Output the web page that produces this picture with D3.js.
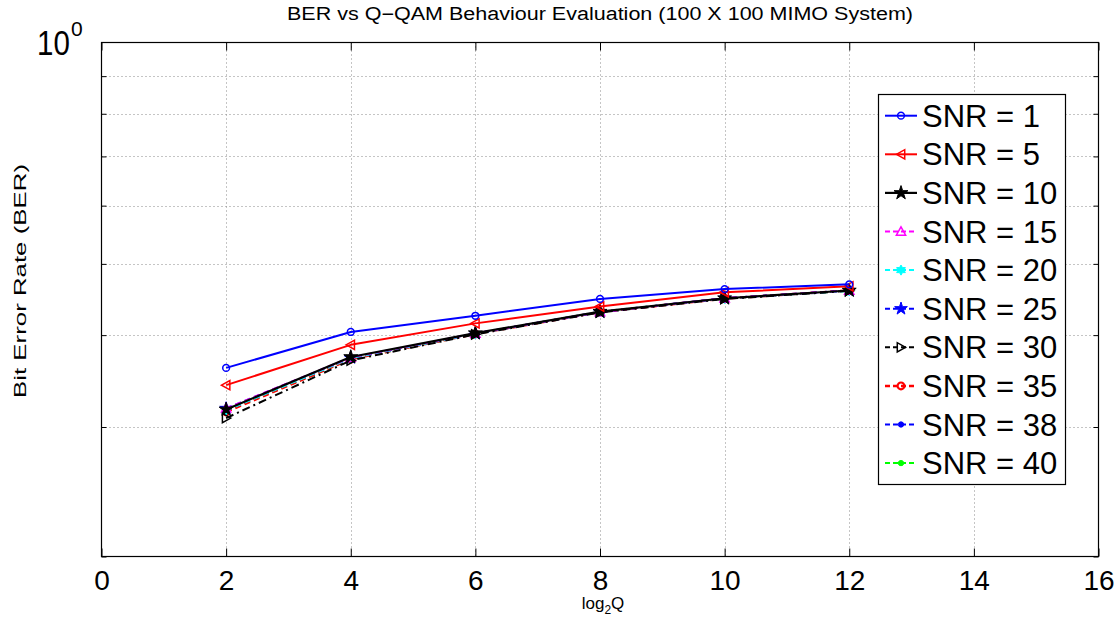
<!DOCTYPE html>
<html>
<head>
<meta charset="utf-8">
<script src="https://cdn.jsdelivr.net/npm/d3@7"></script>
<style>
  html, body { margin: 0; padding: 0; background: #fff; }
  svg { display: block; font-family: "Liberation Sans", Arial, Helvetica, sans-serif; }
</style>
</head>
<body>
<svg id="chart" width="1120" height="625"></svg>
<script>
// log2 of the QAM order on the x axis
const log2Q = [2, 4, 6, 8, 10, 12];

// BER per SNR setting
const ber_snr1  = [0.361, 0.404, 0.425, 0.448, 0.462, 0.469];
const ber_snr5  = [0.342, 0.388, 0.415, 0.4375, 0.4575, 0.466];
const ber_snr10 = [0.317, 0.3735, 0.4025, 0.4305, 0.449, 0.460];
const ber_snr15 = [0.318, 0.373, 0.402, 0.430, 0.449, 0.460];
const ber_snr20 = [0.316, 0.372, 0.4015, 0.4305, 0.4485, 0.4595];
const ber_snr25 = [0.318, 0.3725, 0.402, 0.430, 0.449, 0.460];
const ber_snr30 = [0.3085, 0.3695, 0.401, 0.4295, 0.448, 0.4595];
const ber_snr35 = [0.3145, 0.371, 0.4015, 0.430, 0.4485, 0.460];
const ber_snr38 = [0.3155, 0.3715, 0.402, 0.430, 0.4488, 0.4598];
const ber_snr40 = [0.315, 0.371, 0.4018, 0.4302, 0.4487, 0.4597];

const snrLabels = ["SNR = 1", "SNR = 5", "SNR = 10", "SNR = 15", "SNR = 20",
                   "SNR = 25", "SNR = 30", "SNR = 35", "SNR = 38", "SNR = 40"];
const xTicks = [0, 2, 4, 6, 8, 10, 12, 14, 16];
const yMinorTicks = [0.2, 0.3, 0.4, 0.5, 0.6, 0.7, 0.8, 0.9];

const titleText = "BER vs Q\u2212QAM Behaviour Evaluation (100 X 100 MIMO System)";
const yLabelText = "Bit Error Rate (BER)";

// custom marker shapes
const triLeft = { draw(ctx, s) { const r = Math.sqrt(s) * 0.6;
  ctx.moveTo(-r, 0); ctx.lineTo(r * 0.8, -r); ctx.lineTo(r * 0.8, r); ctx.closePath(); } };
const triRight = { draw(ctx, s) { const r = Math.sqrt(s) * 0.6;
  ctx.moveTo(r, 0); ctx.lineTo(-r * 0.8, -r); ctx.lineTo(-r * 0.8, r); ctx.closePath(); } };
const triUp = { draw(ctx, s) { const r = Math.sqrt(s) * 0.6;
  ctx.moveTo(0, -r); ctx.lineTo(r, r * 0.8); ctx.lineTo(-r, r * 0.8); ctx.closePath(); } };
const hexagram = { draw(ctx, s) { const R = Math.sqrt(s) * 0.65, r = R * 0.577;
  for (let i = 0; i < 12; i++) { const a = -Math.PI / 2 + i * Math.PI / 6; const rr = i % 2 ? r : R;
    const px = rr * Math.cos(a), py = rr * Math.sin(a); i ? ctx.lineTo(px, py) : ctx.moveTo(px, py); }
  ctx.closePath(); } };

const series = [
  { label: snrLabels[0], values: ber_snr1,  color: "#0000ff", dash: null,      width: 2,   sym: d3.symbolCircle, size: 36, fill: "none", sw: 1.5 },
  { label: snrLabels[1], values: ber_snr5,  color: "#ff0000", dash: null,      width: 2,   sym: triLeft,        size: 60, fill: "none", sw: 1.5 },
  { label: snrLabels[2], values: ber_snr10, color: "#000000", dash: null,      width: 2.2, sym: d3.symbolStar,   size: 60, fill: "#000000", sw: 1 },
  { label: snrLabels[3], values: ber_snr15, color: "#ff00ff", dash: "6,4",     width: 2,   sym: triUp,          size: 60, fill: "none", sw: 1.5 },
  { label: snrLabels[4], values: ber_snr20, color: "#00ffff", dash: "6,4",     width: 2,   sym: hexagram,       size: 60, fill: "#00ffff", sw: 1 },
  { label: snrLabels[5], values: ber_snr25, color: "#0000ff", dash: "6,4",     width: 2,   sym: d3.symbolStar,   size: 50, fill: "#0000ff", sw: 1 },
  { label: snrLabels[6], values: ber_snr30, color: "#000000", dash: "8,4,2,4", width: 2,   sym: triRight,       size: 60, fill: "none", sw: 1.5 },
  { label: snrLabels[7], values: ber_snr35, color: "#ff0000", dash: "6,4",     width: 2.5, sym: d3.symbolCircle, size: 36, fill: "none", sw: 2.2 },
  { label: snrLabels[8], values: ber_snr38, color: "#0000ff", dash: "6,4",     width: 2,   sym: d3.symbolCircle, size: 22, fill: "#0000ff", sw: 1 },
  { label: snrLabels[9], values: ber_snr40, color: "#00ff00", dash: "6,4",     width: 2,   sym: d3.symbolCircle, size: 22, fill: "#00ff00", sw: 1 }
];
// stacking order of the curves (bottom to top)
const drawOrder = [9, 8, 7, 5, 4, 3, 6, 2, 1, 0];

const svg = d3.select("#chart");
const pL = 101.5, pR = 1098.5, pT = 42.5, pB = 556.5;

const x = d3.scaleLinear().domain([0, 16]).range([pL, pR]);
const y = d3.scaleLog().domain([0.2, 1]).range([pB, pT]);

// dotted grid
const grid = svg.append("g").attr("stroke", "#8a8a8a").attr("stroke-width", 1).attr("stroke-dasharray", "1,3");
grid.selectAll("line.gx").data(xTicks.slice(1, -1)).join("line")
  .attr("x1", d => Math.round(x(d)) + 0.5).attr("x2", d => Math.round(x(d)) + 0.5)
  .attr("y1", pT).attr("y2", pB);
grid.selectAll("line.gy").data(yMinorTicks.slice(1)).join("line")
  .attr("y1", d => Math.round(y(d)) + 0.5).attr("y2", d => Math.round(y(d)) + 0.5)
  .attr("x1", pL).attr("x2", pR);

// axes with inward ticks on all four sides
const xBottom = d3.axisBottom(x).tickValues(xTicks).tickSize(-8).tickPadding(14).tickFormat(d3.format("d"));
const xTop = d3.axisTop(x).tickValues(xTicks).tickSize(-8).tickFormat("");
const yLeft = d3.axisLeft(y).tickValues(yMinorTicks).tickSize(-5).tickFormat("");
const yRight = d3.axisRight(y).tickValues(yMinorTicks).tickSize(-5).tickFormat("");

function styleAxis(g) {
  g.select(".domain").remove();
  g.selectAll(".tick line").attr("stroke", "#000").attr("stroke-width", 1);
}
svg.append("g").attr("transform", `translate(0,${pB})`).call(xBottom).call(styleAxis)
  .selectAll("text").attr("font-size", 28).attr("font-family", "Liberation Sans, Arial, sans-serif").attr("fill", "#000").attr("dy", "0.71em");
svg.append("g").attr("transform", `translate(0,${pT})`).call(xTop).call(styleAxis);
svg.append("g").attr("transform", `translate(${pL},0)`).call(yLeft).call(styleAxis);
svg.append("g").attr("transform", `translate(${pR},0)`).call(yRight).call(styleAxis);

// frame
svg.append("rect").attr("x", pL).attr("y", pT).attr("width", pR - pL).attr("height", pB - pT)
  .attr("fill", "none").attr("stroke", "#000").attr("stroke-width", 1.2);

// 10^0 label at the top of the y axis
svg.append("text").attr("transform", "translate(37,55) scale(0.82,1)")
  .attr("font-size", 36).attr("fill", "#000").text("10");
svg.append("text").attr("x", 71).attr("y", 36)
  .attr("font-size", 21).attr("fill", "#000").text("0");

// series
const line = d3.line().x((d, i) => x(log2Q[i])).y(d => y(d));
const plot = svg.append("g");
drawOrder.forEach(k => {
  const s = series[k];
  plot.append("path").datum(s.values).attr("d", line)
    .attr("fill", "none").attr("stroke", s.color).attr("stroke-width", s.width)
    .attr("stroke-dasharray", s.dash).attr("stroke-linejoin", "round");
  plot.selectAll(null).data(s.values).join("path")
    .attr("transform", (d, i) => `translate(${x(log2Q[i])},${y(d)})`)
    .attr("d", d3.symbol(s.sym, s.size))
    .attr("fill", s.fill)
    .attr("stroke", s.color).attr("stroke-width", s.sw);
});

// title and axis labels
svg.append("text").attr("x", 287).attr("y", 20)
  .attr("textLength", 626).attr("lengthAdjust", "spacingAndGlyphs")
  .attr("font-size", 18).attr("fill", "#000").text(titleText);
svg.append("text").attr("transform", `translate(26,398) rotate(-90)`)
  .attr("textLength", 234).attr("lengthAdjust", "spacingAndGlyphs")
  .attr("font-size", 17).attr("fill", "#000").text(yLabelText);
const xl = svg.append("text").attr("x", 603).attr("y", 609).attr("text-anchor", "middle")
  .attr("font-size", 17).attr("fill", "#000");
xl.append("tspan").text("log");
xl.append("tspan").attr("font-size", 12).attr("dy", 5).text("2");
xl.append("tspan").attr("dy", -5).text("Q");

// legend
const lgX = 878.5, lgY = 94.5, lgW = 187, lgH = 390, rowH = 38.6, row0 = 115.7;
const lg = svg.append("g");
lg.append("rect").attr("x", lgX).attr("y", lgY).attr("width", lgW).attr("height", lgH)
  .attr("fill", "#fff").attr("stroke", "#000").attr("stroke-width", 1.2);
series.forEach((s, i) => {
  const cy = row0 + i * rowH;
  lg.append("line").attr("x1", 885).attr("x2", 917).attr("y1", cy).attr("y2", cy)
    .attr("stroke", s.color).attr("stroke-width", s.width)
    .attr("stroke-dasharray", s.dash ? "5,3" : null);
  lg.append("path").attr("transform", `translate(901,${cy})`).attr("d", d3.symbol(s.sym, s.size))
    .attr("fill", s.fill).attr("stroke", s.color).attr("stroke-width", s.sw);
  lg.append("text").attr("x", 922).attr("y", cy).attr("dy", "0.36em")
    .attr("font-size", 31).attr("fill", "#000").text(s.label);
});
</script>
</body>
</html>
